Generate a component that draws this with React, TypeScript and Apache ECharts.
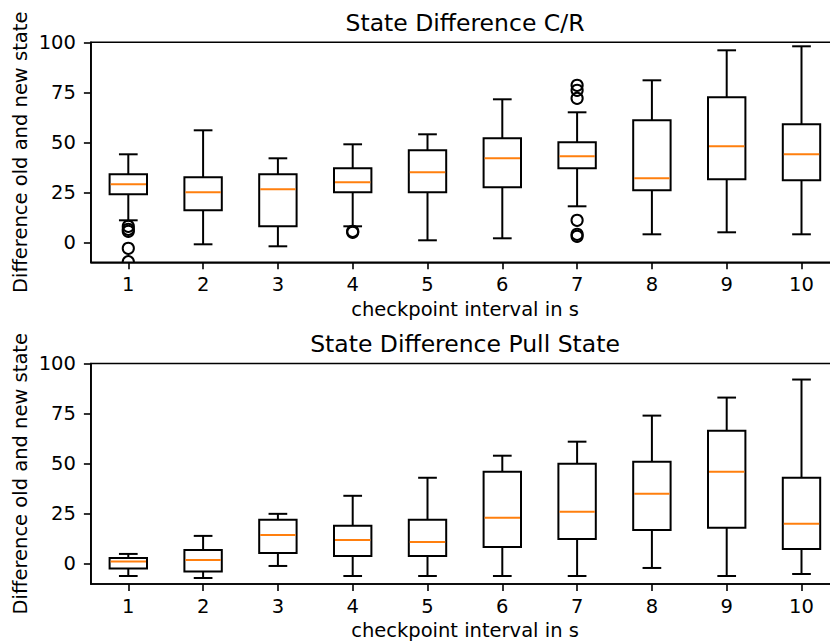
import React, { useEffect, useRef } from "react";
import * as echarts from "echarts";

const categories = ["1", "2", "3", "4", "5", "6", "7", "8", "9", "10"];

// Top panel: State Difference C/R
const crWhiskerLow = [11, -1, -2, 8, 1, 2, 18, 4, 5, 4];
const crQ1 = [24, 16, 8, 25, 25, 27.5, 37, 26, 31.5, 31];
const crMedian = [29, 25, 26.5, 30, 35, 42, 43, 32, 48, 44];
const crQ3 = [34, 32.5, 34, 37, 46, 52, 50, 61, 72.5, 59];
const crWhiskerHigh = [44, 56, 42, 49, 54, 71.5, 65, 81, 96, 98];
const crOutlierCats = ["1", "1", "1", "1", "1", "4", "4", "7", "7", "7", "7", "7", "7"];
const crOutlierValues = [8, 6.5, 5.5, -3, -9.7, 5.5, 5, 78.5, 76, 72, 11, 4, 3];

// Bottom panel: State Difference Pull State
const pullWhiskerLow = [-6, -7, -1, -6, -6, -6, -6, -2, -6, -5];
const pullQ1 = [-2.3, -3.8, 5.5, 4, 4, 8.5, 12.5, 17, 18, 7.5];
const pullMedian = [1.2, 2, 14.5, 12, 11, 23, 26, 35, 46, 20];
const pullQ3 = [3, 7, 22, 19, 22, 46, 50, 51, 66.5, 43];
const pullWhiskerHigh = [5, 14, 25, 34, 43, 54, 61, 74, 83, 92];

const yTicks = [0, 25, 50, 75, 100];
const titles = ["State Difference C/R", "State Difference Pull State"];
const xName = "checkpoint interval in s";
const yName = "Difference old and new state";

const FONT = "DejaVu Sans";
const BLACK = "#000000";
const ORANGE = "#ff7f0e";

function boxRows(lo: number[], q1: number[], md: number[], q3: number[], hi: number[]) {
  return categories.map((_, i) => [i, lo[i], q1[i], md[i], q3[i], hi[i]]);
}

function renderBox(params: any, api: any) {
  const x = api.value(0);
  const lo = api.coord([x, api.value(1)]);
  const q1 = api.coord([x, api.value(2)]);
  const md = api.coord([x, api.value(3)]);
  const q3 = api.coord([x, api.value(4)]);
  const hi = api.coord([x, api.value(5)]);
  const band = api.size([1, 0])[0];
  const bw = band * 0.5;
  const cw = bw * 0.5;
  const cx = lo[0];
  const ls = { stroke: BLACK, lineWidth: 2, fill: null };
  return {
    type: "group",
    children: [
      { type: "line", shape: { x1: cx, y1: lo[1], x2: cx, y2: q1[1] }, style: ls },
      { type: "line", shape: { x1: cx, y1: q3[1], x2: cx, y2: hi[1] }, style: ls },
      { type: "line", shape: { x1: cx - cw / 2, y1: lo[1], x2: cx + cw / 2, y2: lo[1] }, style: ls },
      { type: "line", shape: { x1: cx - cw / 2, y1: hi[1], x2: cx + cw / 2, y2: hi[1] }, style: ls },
      {
        type: "rect",
        shape: { x: cx - bw / 2, y: q3[1], width: bw, height: q1[1] - q3[1] },
        style: { stroke: BLACK, lineWidth: 2, fill: "none" },
      },
      {
        type: "line",
        shape: { x1: cx - bw / 2 + 1, y1: md[1], x2: cx + bw / 2 - 1, y2: md[1] },
        style: { stroke: ORANGE, lineWidth: 2 },
      },
    ],
  };
}

function renderFlier(params: any, api: any) {
  const p = api.coord([api.value(0), api.value(1)]);
  return {
    type: "circle",
    shape: { cx: p[0], cy: p[1], r: 5.6 },
    style: { stroke: BLACK, lineWidth: 2, fill: "none" },
  };
}

export default function App() {
  const ref = useRef<HTMLDivElement>(null);

  useEffect(() => {
    if (!ref.current) return;
    const chart = echarts.init(ref.current, null, { renderer: "svg" });

    const grids = [
      { left: 90.9, top: 42.3, width: 748, height: 220 },
      { left: 90.9, top: 363.5, width: 748, height: 220.5 },
    ];

    const axisLineStyle = { color: BLACK, width: 1.6 };

    const option: any = {
      animation: false,
      backgroundColor: "#ffffff",
      grid: grids.map((g) => ({
        ...g,
        show: true,
        borderColor: BLACK,
        borderWidth: 1.6,
        backgroundColor: "transparent",
        containLabel: false,
      })),
      xAxis: [0, 1].map((i) => ({
        gridIndex: i,
        type: "category",
        data: categories,
        boundaryGap: true,
        axisLine: { show: true, onZero: false, lineStyle: axisLineStyle },
        axisTick: { show: true, alignWithLabel: true, length: 7, lineStyle: axisLineStyle },
        axisLabel: {
          interval: 0,
          fontSize: 19.5,
          fontFamily: FONT,
          color: BLACK,
          margin: 22,
          verticalAlign: "middle",
        },
        splitLine: { show: false },
      })),
      yAxis: [0, 1].map((i) => ({
        gridIndex: i,
        type: "value",
        min: -10,
        max: 100,
        axisLine: { show: true, onZero: false, lineStyle: axisLineStyle },
        axisTick: { show: true, length: 7, lineStyle: axisLineStyle, customValues: yTicks },
        axisLabel: {
          customValues: yTicks,
          fontSize: 19.5,
          fontFamily: FONT,
          color: BLACK,
          margin: 15,
        },
        splitLine: { show: false },
      })),
      series: [
        {
          type: "custom",
          xAxisIndex: 0,
          yAxisIndex: 0,
          renderItem: renderBox,
          encode: { x: 0, y: [1, 2, 3, 4, 5] },
          data: boxRows(crWhiskerLow, crQ1, crMedian, crQ3, crWhiskerHigh),
          z: 2,
        },
        {
          type: "custom",
          xAxisIndex: 0,
          yAxisIndex: 0,
          clip: true,
          renderItem: renderFlier,
          encode: { x: 0, y: 1 },
          data: crOutlierCats.map((c, i) => [categories.indexOf(c), crOutlierValues[i]]),
          z: 3,
        },
        {
          type: "custom",
          xAxisIndex: 1,
          yAxisIndex: 1,
          renderItem: renderBox,
          encode: { x: 0, y: [1, 2, 3, 4, 5] },
          data: boxRows(pullWhiskerLow, pullQ1, pullMedian, pullQ3, pullWhiskerHigh),
          z: 2,
        },
      ],
      graphic: [
        {
          type: "text",
          x: 465,
          y: 22.6,
          style: { text: titles[0], font: `23.5px '${FONT}'`, fill: BLACK, align: "center", verticalAlign: "middle" },
        },
        {
          type: "text",
          x: 465,
          y: 344.2,
          style: { text: titles[1], font: `23.5px '${FONT}'`, fill: BLACK, align: "center", verticalAlign: "middle" },
        },
        {
          type: "text",
          x: 465,
          y: 309,
          style: { text: xName, font: `19.5px '${FONT}'`, fill: BLACK, align: "center", verticalAlign: "middle" },
        },
        {
          type: "text",
          x: 465,
          y: 630,
          style: { text: xName, font: `19.5px '${FONT}'`, fill: BLACK, align: "center", verticalAlign: "middle" },
        },
        {
          type: "text",
          x: 20,
          y: 152.3,
          rotation: Math.PI / 2,
          style: { text: yName, font: `19.5px '${FONT}'`, fill: BLACK, align: "center", verticalAlign: "middle" },
        },
        {
          type: "text",
          x: 20,
          y: 473.7,
          rotation: Math.PI / 2,
          style: { text: yName, font: `19.5px '${FONT}'`, fill: BLACK, align: "center", verticalAlign: "middle" },
        },
      ],
    };

    chart.setOption(option);
    return () => chart.dispose();
  }, []);

  return (
    <div
      ref={ref}
      style={{ position: "fixed", left: 0, top: 0, width: 840, height: 644, background: "#fff" }}
    />
  );
}
